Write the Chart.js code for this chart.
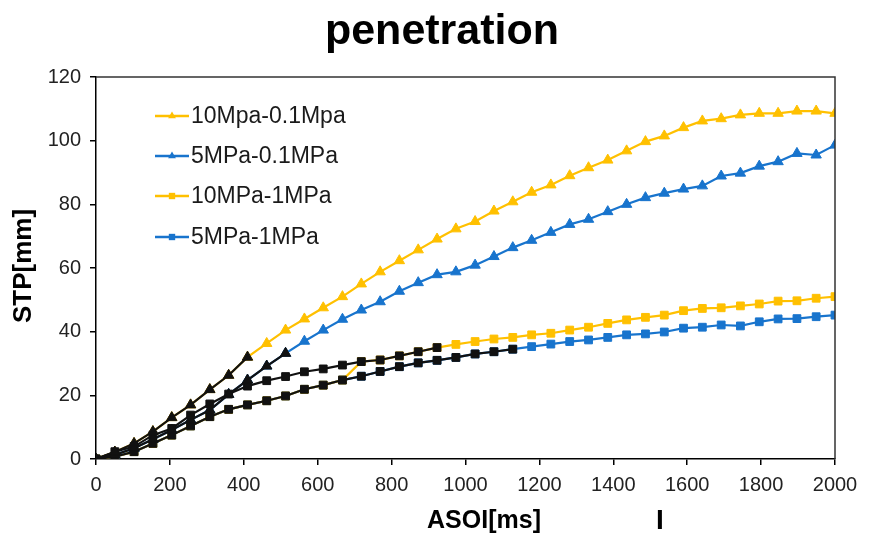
<!DOCTYPE html>
<html>
<head>
<meta charset="utf-8">
<script src="https://cdn.jsdelivr.net/npm/chart.js@4.4.1/dist/chart.umd.min.js"></script>
<style>
    html, body { margin: 0; padding: 0; background: #fff; }
    #wrap { width: 883px; height: 536px; position: relative; }
</style>
</head>
<body>
<div id="wrap"><canvas id="stpChart"></canvas></div>
<script>
// sample times (ms)
var timeMs = [0, 51, 103, 154, 205, 256, 308, 359, 410, 462, 513, 564, 615, 667, 718, 769, 821, 872, 923, 974,
              1026, 1077, 1128, 1179, 1231, 1282, 1333, 1385, 1436, 1487, 1538, 1590, 1641, 1692, 1744, 1795, 1846, 1897, 1949, 2000];

var seriesNames = ['10Mpa-0.1Mpa', '5MPa-0.1MPa', '10MPa-1MPa', '5MPa-1MPa'];

// STP [mm]
var stp10_01 = [0, 2.2, 4.9, 8.6, 13, 17, 21.8, 26.3, 32, 36.3, 40.5, 44, 47.5, 51, 55, 58.8, 62.3, 65.7, 69.1, 72.3,
                74.6, 77.9, 80.8, 83.8, 86.1, 89, 91.5, 93.9, 96.8, 99.7, 101.5, 104.1, 106.2, 106.9, 108.1, 108.6, 108.6, 109.3, 109.3, 108.6];
var stp5_01 = [0, 1.3, 3.4, 6.2, 9.1, 12.3, 15.4, 20.3, 24.8, 29.2, 33.2, 37, 40.5, 43.9, 46.8, 49.4, 52.7, 55.4, 57.9, 58.8,
               60.9, 63.6, 66.4, 68.7, 71.2, 73.7, 75.3, 77.7, 80, 82.1, 83.5, 84.8, 85.8, 88.9, 89.8, 92, 93.4, 96, 95.5, 98.6];
var stp10_1 = [0, 0.7, 2.3, 4.9, 7.5, 10.4, 13.3, 15.6, 17, 18.3, 19.8, 21.9, 23.2, 24.8, 30.6, 31.1, 32.4, 33.7, 35, 36,
               36.9, 37.7, 38.2, 39, 39.5, 40.5, 41.4, 42.6, 43.7, 44.5, 45.2, 46.6, 47.3, 47.5, 48.1, 48.7, 49.6, 49.7, 50.5, 51];
var stp5_1 = [0, 0.7, 2.3, 4.9, 7.5, 10.4, 13.3, 15.6, 17, 18.3, 19.8, 21.9, 23.2, 24.8, 26, 27.5, 29, 30.2, 31, 31.9,
              33, 33.7, 34.5, 35.3, 36.1, 36.9, 37.4, 38.2, 39, 39.3, 39.9, 41.1, 41.4, 42.1, 41.8, 43.1, 44, 44.1, 44.7, 45.2];

// black overlay curves covering the early part
var blackTriA = [0, 2.2, 4.9, 8.6, 13, 17, 21.8, 26.3, 32];
var blackTriB = [0, 1.3, 3.4, 6.2, 9.1, 12.3, 15.4, 20.3, 24.8, 29.2, 33.2];
var blackSqC = [0, 2.3, 3.9, 7.5, 9.6, 13.8, 17.3, 20.4, 22.9, 24.6, 25.9, 27.4, 28.3, 29.5, 30.6, 31.1, 32.4, 33.7, 35];
var blackSqD = [0, 0.7, 2.3, 4.9, 7.5, 10.4, 13.3, 15.6, 17, 18.3, 19.8, 21.9, 23.2, 24.8, 26, 27.5, 29, 30.2, 31, 31.9, 33, 33.7, 34.5];

var YELLOW = '#FFC000';
var BLUE = '#1874CD';
var FONT = '"Liberation Sans", Arial, sans-serif';

function pts(values) {
    return values.map(function (v, i) { return { x: timeMs[i], y: v }; });
}

function colored(label, values, color, style, radius) {
    return {
        label: label,
        data: pts(values),
        borderColor: color,
        backgroundColor: color,
        pointBackgroundColor: color,
        pointBorderColor: color,
        pointBorderWidth: 1,
        pointStyle: style,
        pointRadius: radius,
        borderWidth: 2.2,
        tension: 0,
        order: 1
    };
}

function black(values, style, radius) {
    var ds = colored('', values, '#111', style, radius);
    ds.order = 0;
    return ds;
}

function drawMarker(ctx, style, x, y, r) {
    ctx.beginPath();
    if (style === 'triangle') {
        ctx.moveTo(x, y - r);
        ctx.lineTo(x + r * 0.866, y + r * 0.5);
        ctx.lineTo(x - r * 0.866, y + r * 0.5);
    } else {
        var s = r * 0.707;
        ctx.rect(x - s, y - s, 2 * s, 2 * s);
    }
    ctx.closePath();
    ctx.fill();
}

var decorPlugin = {
    id: 'decor',
    afterDraw: function (chart) {
        var ctx = chart.ctx;
        var a = chart.chartArea;
        ctx.save();

        // plot frame (top / right)
        ctx.strokeStyle = '#333';
        ctx.lineWidth = 1.5;
        ctx.beginPath();
        ctx.moveTo(a.left, a.top);
        ctx.lineTo(a.right, a.top);
        ctx.lineTo(a.right, a.bottom);
        ctx.stroke();

        // title
        ctx.fillStyle = '#000';
        ctx.textAlign = 'center';
        ctx.textBaseline = 'middle';
        ctx.font = 'bold 43px ' + FONT;
        ctx.fillText('penetration', 442, 32);

        // axis titles
        ctx.font = 'bold 25px ' + FONT;
        ctx.fillText('ASOI[ms]', 484, 521);
        ctx.font = 'bold 28px ' + FONT;
        ctx.fillText('I', 660, 521);

        ctx.save();
        ctx.translate(24, 266);
        ctx.rotate(-Math.PI / 2);
        ctx.font = 'bold 26px ' + FONT;
        ctx.fillText('STP[mm]', 0, 0);
        ctx.restore();

        // legend in the upper left of the plot
        var rowY = [116, 156, 196, 237];
        var k = 0;
        chart.data.datasets.forEach(function (ds) {
            if (!ds.label) return;
            var y = rowY[k++];
            ctx.strokeStyle = ds.borderColor;
            ctx.fillStyle = ds.borderColor;
            ctx.lineWidth = 2.5;
            ctx.beginPath();
            ctx.moveTo(155, y);
            ctx.lineTo(189, y);
            ctx.stroke();
            drawMarker(ctx, ds.pointStyle, 172, y, 4.5);
            ctx.fillStyle = '#1a1a1a';
            ctx.textAlign = 'left';
            ctx.font = '23px ' + FONT;
            ctx.fillText(ds.label, 191, y + 1);
        });
        ctx.restore();
    }
};

var ctx = document.getElementById('stpChart');
var myChart = new Chart(ctx, {
    type: 'line',
    data: {
        datasets: [
            black(blackTriA, 'triangle', 6),
            black(blackTriB, 'triangle', 6),
            black(blackSqC, 'rect', 5.5),
            black(blackSqD, 'rect', 5.5),
            colored(seriesNames[0], stp10_01, YELLOW, 'triangle', 6),
            colored(seriesNames[1], stp5_01, BLUE, 'triangle', 6),
            colored(seriesNames[2], stp10_1, YELLOW, 'rect', 5.5),
            colored(seriesNames[3], stp5_1, BLUE, 'rect', 5.5)
        ]
    },
    options: {
        responsive: true,
        maintainAspectRatio: false,
        animation: false,
        layout: { padding: { top: 77, right: 48, left: 0, bottom: 0 } },
        plugins: {
            legend: { display: false },
            tooltip: { enabled: false },
            title: { display: false }
        },
        scales: {
            x: {
                type: 'linear',
                min: 0,
                max: 2000,
                ticks: {
                    stepSize: 200, color: '#222', padding: 8, font: { family: FONT, size: 20 },
                    callback: function (value) { return String(value); }
                },
                grid: { drawOnChartArea: false, tickLength: 6, color: '#000', lineWidth: 1.5 },
                border: { color: '#000', width: 1.5 },
                afterFit: function (s) { s.height = 77; }
            },
            y: {
                min: 0,
                max: 120,
                ticks: { stepSize: 20, color: '#222', padding: 9, font: { family: FONT, size: 20 } },
                grid: { drawOnChartArea: false, tickLength: 6, color: '#000', lineWidth: 1.5 },
                border: { color: '#000', width: 1.5 },
                afterFit: function (s) { s.width = 96; }
            }
        }
    },
    plugins: [decorPlugin]
});
</script>
</body>
</html>
